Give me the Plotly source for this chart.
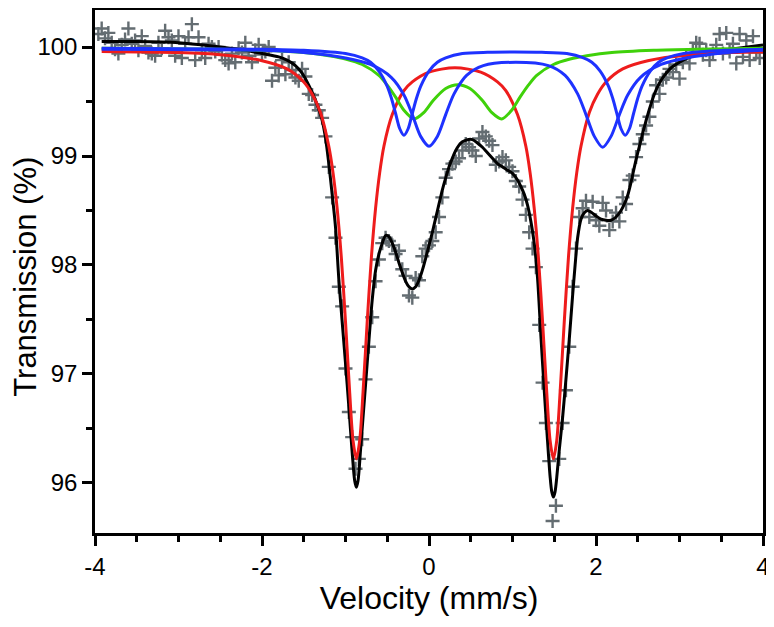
import plotly.graph_objects as go

# ---- measured spectrum (velocity in mm/s, transmission in %) ----
velocity = [
    -3.96, -3.92, -3.88, -3.84, -3.80, -3.76, -3.72, -3.68, -3.64, -3.60,
    -3.56, -3.52, -3.48, -3.44, -3.40, -3.36, -3.32, -3.28, -3.24, -3.20,
    -3.16, -3.12, -3.08, -3.04, -3.00, -2.96, -2.92, -2.88, -2.84, -2.80,
    -2.76, -2.72, -2.68, -2.64, -2.60, -2.56, -2.52, -2.48, -2.44, -2.40,
    -2.36, -2.32, -2.28, -2.24, -2.20, -2.16, -2.12, -2.08, -2.04, -2.00,
    -1.96, -1.92, -1.88, -1.84, -1.80, -1.76, -1.72, -1.68, -1.64, -1.60,
    -1.56, -1.52, -1.48, -1.44, -1.40, -1.36, -1.32, -1.28, -1.24, -1.20,
    -1.16, -1.12, -1.08, -1.04, -1.00, -0.96, -0.92, -0.88, -0.84, -0.80,
    -0.76, -0.72, -0.68, -0.64, -0.60, -0.56, -0.52, -0.48, -0.44, -0.40,
    -0.36, -0.32, -0.28, -0.24, -0.20, -0.16, -0.12, -0.08, -0.04, 0.00,
    0.04, 0.08, 0.12, 0.16, 0.20, 0.24, 0.28, 0.32, 0.36, 0.40,
    0.44, 0.48, 0.52, 0.56, 0.60, 0.64, 0.68, 0.72, 0.76, 0.80,
    0.84, 0.88, 0.92, 0.96, 1.00, 1.04, 1.08, 1.12, 1.16, 1.20,
    1.24, 1.28, 1.32, 1.36, 1.40, 1.44, 1.48, 1.52, 1.56, 1.60,
    1.64, 1.68, 1.72, 1.76, 1.80, 1.84, 1.88, 1.92, 1.96, 2.00,
    2.04, 2.08, 2.12, 2.16, 2.20, 2.24, 2.28, 2.32, 2.36, 2.40,
    2.44, 2.48, 2.52, 2.56, 2.60, 2.64, 2.68, 2.72, 2.76, 2.80,
    2.84, 2.88, 2.92, 2.96, 3.00, 3.04, 3.08, 3.12, 3.16, 3.20,
    3.24, 3.28, 3.32, 3.36, 3.40, 3.44, 3.48, 3.52, 3.56, 3.60,
    3.64, 3.68, 3.72, 3.76, 3.80, 3.84, 3.88, 3.92, 3.96,
]
transmission = [
    100.12, 100.17, 100.08, 100.13, 100.04, 99.98, 99.94, 100.02, 100.07, 100.17,
    100.03, 100.06, 99.97, 100.10, 100.01, 99.95, 99.94, 99.92, 100.04, 99.99,
    100.15, 100.09, 100.06, 99.92, 100.10, 99.90, 100.03, 100.09, 100.21, 99.88,
    100.09, 99.97, 99.90, 100.03, 100.00, 99.96, 100.00, 99.93, 99.88, 99.85,
    99.94, 99.86, 99.99, 99.95, 100.04, 99.92, 99.86, 99.97, 100.02, 99.93,
    99.96, 100.00, 99.69, 99.81, 99.74, 99.88, 99.75, 99.86, 99.79, 99.72,
    99.69, 99.80, 99.73, 99.57, 99.56, 99.47, 99.42, 99.35, 99.18, 98.90,
    98.62, 98.25, 97.80, 97.62, 97.05, 96.65, 96.42, 96.13, 96.22, 96.40,
    96.95, 97.25, 97.52, 97.85, 98.05, 98.20, 98.25, 98.22, 98.18, 98.10,
    98.13, 97.96, 97.90, 97.72, 97.70, 97.88, 97.86, 98.08, 98.15, 98.18,
    98.22, 98.30, 98.44, 98.62, 98.80, 98.88, 98.93, 98.95, 98.98, 99.05,
    99.11, 99.08, 99.05, 99.00, 99.16, 99.22, 99.18, 99.14, 99.10, 98.92,
    98.95, 98.99, 98.96, 98.90, 98.86, 98.77, 98.72, 98.60, 98.46, 98.30,
    98.15, 97.98, 97.45, 96.92, 96.55, 96.20, 95.65, 95.79, 96.22, 96.55,
    96.85, 97.25, 97.80, 98.15, 98.44, 98.52, 98.59, 98.44, 98.58, 98.41,
    98.36, 98.57, 98.50, 98.32, 98.40, 98.48, 98.40, 98.62, 98.56, 98.78,
    98.82, 98.99, 99.11, 99.20, 99.28, 99.36, 99.50, 99.65, 99.57, 99.70,
    99.72, 99.80, 99.77, 99.84, 99.71, 99.86, 99.92, 99.85, 99.98, 100.04,
    100.03, 99.93, 99.97, 99.88, 99.94, 100.02, 100.12, 99.94, 100.13, 99.96,
    100.03, 99.85, 100.12, 99.91, 100.06, 99.88, 100.10, 99.95, 99.90,
]

# ---- total fit (black) ----
fit_total_x = [-3.92, -3.5, -3.0, -2.6, -2.2, -2.0, -1.8, -1.7, -1.6, -1.52, -1.44, -1.38,
               -1.32, -1.28, -1.24, -1.20, -1.16, -1.12, -1.08, -1.04, -1.00, -0.96, -0.92,
               -0.89, -0.87, -0.85, -0.82, -0.79, -0.76, -0.72, -0.68, -0.64, -0.60, -0.56,
               -0.52, -0.48, -0.44, -0.40, -0.36, -0.32, -0.28, -0.24, -0.20, -0.16, -0.12,
               -0.08, -0.04, 0.0, 0.04, 0.08, 0.12, 0.16, 0.20, 0.24, 0.28, 0.32, 0.36, 0.40,
               0.46, 0.52, 0.58, 0.64, 0.70, 0.76, 0.82, 0.88, 0.94, 1.00, 1.06, 1.10, 1.14,
               1.18, 1.22, 1.26, 1.30, 1.34, 1.38, 1.42, 1.45, 1.47, 1.49, 1.51, 1.53, 1.56,
               1.60, 1.64, 1.68, 1.72, 1.75, 1.78, 1.82, 1.86, 1.90, 1.95, 2.00, 2.06, 2.12,
               2.18, 2.24, 2.30, 2.34, 2.38, 2.42, 2.46, 2.50, 2.54, 2.58, 2.62, 2.66, 2.70,
               2.76, 2.82, 2.90, 3.0, 3.1, 3.3, 3.5, 3.7, 4.0]
fit_total_y = [100.05, 100.05, 100.04, 100.01, 99.97, 99.94, 99.91, 99.88, 99.83, 99.76, 99.65, 99.55,
               99.43, 99.33, 99.17, 98.93, 98.65, 98.35, 97.87, 97.48, 97.10, 96.70, 96.28,
               96.02, 95.96, 96.02, 96.30, 96.60, 96.90, 97.30, 97.68, 97.95, 98.10, 98.20,
               98.27, 98.26, 98.20, 98.12, 98.02, 97.93, 97.85, 97.80, 97.78, 97.80, 97.86,
               97.95, 98.06, 98.18, 98.30, 98.43, 98.56, 98.69, 98.80, 98.90, 98.98, 99.05, 99.10, 99.13,
               99.15, 99.15, 99.12, 99.08, 99.03, 98.98, 98.93, 98.90, 98.87, 98.84, 98.78, 98.72, 98.65,
               98.55, 98.40, 98.20, 97.88, 97.35, 96.85, 96.38, 96.06, 95.92, 95.87, 95.92, 96.05, 96.30,
               96.60, 96.95, 97.32, 97.72, 98.00, 98.25, 98.42, 98.48, 98.50, 98.48, 98.45, 98.42, 98.41,
               98.41, 98.44, 98.50, 98.56, 98.64, 98.76, 98.90, 99.03, 99.15, 99.27, 99.38, 99.48, 99.57,
               99.67, 99.74, 99.81, 99.86, 99.90, 99.95, 99.97, 99.99, 100.02]

# ---- red doublet ----
red_x = [-3.92, -3.0, -2.5, -2.0, -1.7, -1.5, -1.4, -1.3, -1.2, -1.15, -1.1, -1.05, -1.0,
         -0.95, -0.91, -0.87, -0.83, -0.79, -0.74, -0.69, -0.64, -0.59, -0.54, -0.44, -0.3,
         -0.2, 0.0, 0.31, 0.62, 0.82, 0.92, 1.06, 1.16, 1.21, 1.26, 1.31, 1.36, 1.41, 1.45,
         1.49, 1.53, 1.57, 1.62, 1.67, 1.72, 1.77, 1.82, 1.92, 2.02, 2.12, 2.32, 2.62, 3.12,
         3.62, 4.0]
red_y = [99.96, 99.95, 99.93, 99.875, 99.80, 99.68, 99.57, 99.40, 99.09, 98.85, 98.52, 98.07, 97.48,
         96.83, 96.39, 96.22, 96.39, 96.83, 97.48, 98.07, 98.52, 98.85, 99.09, 99.38, 99.60,
         99.68, 99.77, 99.81, 99.77, 99.68, 99.60, 99.38, 99.09, 98.85, 98.52, 98.07, 97.48, 96.83, 96.39,
         96.22, 96.39, 96.83, 97.48, 98.07, 98.52, 98.85, 99.09, 99.40, 99.57, 99.68, 99.80, 99.875, 99.93,
         99.95, 99.955]

# ---- green doublet ----
green_x = [-3.92, -2.5, -2.0, -1.5, -1.2, -1.0, -0.8, -0.6, -0.5, -0.4, -0.3, -0.18, -0.06,
           0.05, 0.2, 0.345, 0.49, 0.64, 0.75, 0.87, 0.99, 1.09, 1.19, 1.29, 1.49, 1.69,
           1.89, 2.19, 2.69, 3.19, 4.0]
green_y = [99.99, 99.98, 99.97, 99.95, 99.92, 99.89, 99.84, 99.74, 99.65, 99.54, 99.42, 99.34, 99.40,
           99.51, 99.62, 99.655, 99.62, 99.51, 99.40, 99.34, 99.42, 99.54, 99.65, 99.74, 99.84, 99.89,
           99.92, 99.95, 99.97, 99.98, 99.99]

# ---- blue doublet 1 (outer) ----
blue1_x = [-3.92, -2.0, -1.5, -1.0, -0.8, -0.7, -0.6, -0.5, -0.45, -0.4, -0.35, -0.3, -0.25,
           -0.2, -0.15, -0.1, 0.0, 0.1, 0.2, 0.4, 0.7, 1.025, 1.35, 1.65, 1.85, 1.95, 2.05,
           2.15, 2.2, 2.25, 2.3, 2.35, 2.4, 2.45, 2.5, 2.55, 2.65, 2.75, 2.85, 3.05, 3.55, 4.0]
blue1_y = [99.99, 99.98, 99.97, 99.94, 99.90, 99.86, 99.78, 99.64, 99.53, 99.39, 99.25, 99.19, 99.25,
           99.39, 99.53, 99.64, 99.78, 99.86, 99.90, 99.94, 99.952, 99.955, 99.952, 99.94, 99.90, 99.86, 99.78,
           99.64, 99.53, 99.39, 99.25, 99.19, 99.25, 99.39, 99.53, 99.64, 99.78, 99.86, 99.90, 99.94, 99.97, 99.98]

# ---- blue doublet 2 (inner) ----
blue2_x = [-3.92, -2.0, -1.5, -1.0, -0.7, -0.45, -0.3, -0.2, -0.1, 0.0, 0.1, 0.2, 0.3, 0.45,
           0.65, 1.04, 1.43, 1.63, 1.78, 1.88, 1.98, 2.08, 2.18, 2.28, 2.38, 2.53, 2.78, 3.08,
           3.58, 4.0]
blue2_y = [99.98, 99.97, 99.95, 99.90, 99.84, 99.72, 99.56, 99.38, 99.18, 99.09, 99.18, 99.38, 99.57, 99.74,
           99.83, 99.86, 99.83, 99.74, 99.57, 99.38, 99.18, 99.08, 99.18, 99.38, 99.56, 99.72, 99.84, 99.90,
           99.95, 99.97]

x_ticks = [-4, -2, 0, 2, 4]
y_ticks = [96, 97, 98, 99, 100]

FONT = "Liberation Sans, Arial, Helvetica, sans-serif"

fig = go.Figure()
fig.add_trace(go.Scatter(
    x=velocity, y=transmission, mode="markers",
    marker=dict(symbol="cross-thin", size=10, line=dict(width=2.4, color="#646d72")),
    showlegend=False))

def fit_line(x, y, color):
    fig.add_trace(go.Scatter(x=x, y=y, mode="lines",
                             line=dict(color=color, width=3, shape="spline", smoothing=0.8),
                             showlegend=False))

fit_line(fit_total_x, fit_total_y, "#000000")
fit_line(red_x, red_y, "#ee1c1c")
fit_line(green_x, green_y, "#3fd10a")
fit_line(blue1_x, blue1_y, "#1e32ff")
fit_line(blue2_x, blue2_y, "#1e32ff")

axis_common = dict(
    showline=True, mirror=True, linecolor="black", linewidth=2.5,
    ticks="outside", ticklen=10, tickwidth=2.5, tickcolor="black",
    showgrid=False, zeroline=False,
    tickfont=dict(family=FONT, size=24, color="black"),
)

fig.update_xaxes(
    range=[-4, 4], tickvals=x_ticks, ticktext=[str(v) for v in x_ticks],
    minor=dict(dtick=0.5, tick0=-4, ticks="outside", ticklen=6, tickwidth=2.5, tickcolor="black"),
    title=dict(text="Velocity (mm/s)", font=dict(family=FONT, size=32, color="black"), standoff=8),
    **axis_common)
fig.update_yaxes(
    range=[95.54, 100.34], tickvals=y_ticks, ticktext=[str(v) for v in y_ticks],
    minor=dict(dtick=0.5, tick0=96, ticks="outside", ticklen=6, tickwidth=2.5, tickcolor="black"),
    **axis_common)

# y-axis title placed precisely as an annotation
fig.add_annotation(
    text="Transmission (%)", textangle=-90, showarrow=False, borderpad=0,
    xref="paper", yref="paper", x=-0.1033, y=0.49, xanchor="center", yanchor="middle",
    font=dict(family=FONT, size=31, color="black"))

# the page body adds an 8px offset, so margins compensate for it
fig.update_layout(
    width=774, height=627,
    margin=dict(l=87, r=19, t=2, b=102, autoexpand=False),
    paper_bgcolor="white", plot_bgcolor="white",
)

fig.write_html("out.html")
